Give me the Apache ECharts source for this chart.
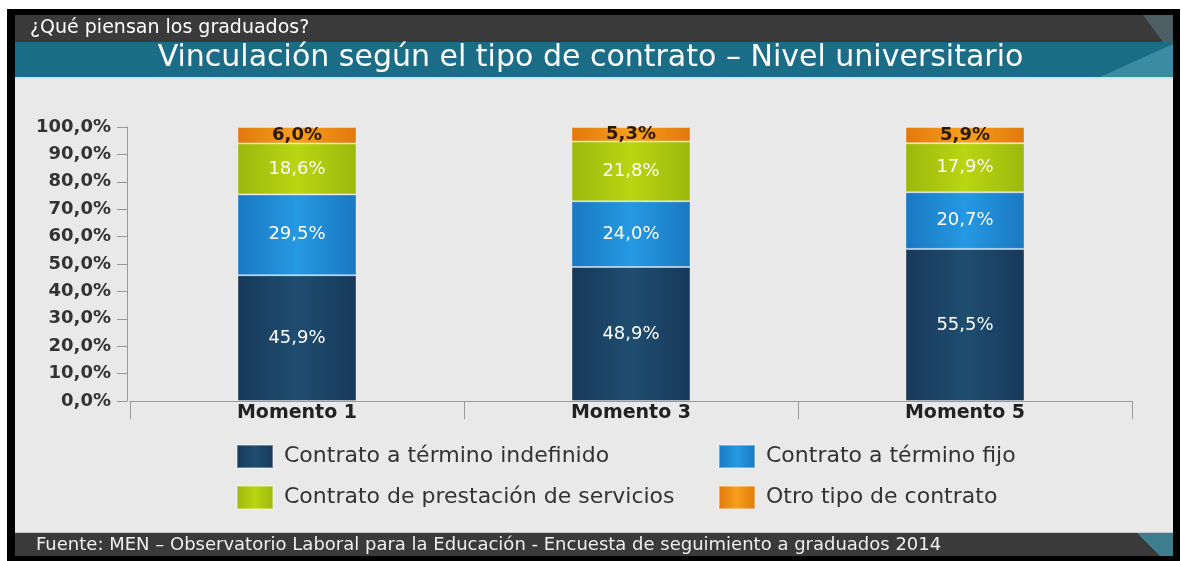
<!DOCTYPE html>
<html>
<head>
<meta charset="utf-8">
<script src="https://cdn.jsdelivr.net/npm/echarts@6/dist/echarts.min.js"></script>
<style>
  html, body { margin: 0; padding: 0; background: #fff; }
  #chart { width: 1181px; height: 561px; }
</style>
</head>
<body>
<div id="chart"></div>
<script>
// datos
var categorias = ['Momento 1', 'Momento 3', 'Momento 5']
var indefinido = [45.9, 48.9, 55.5]
var fijo = [29.5, 24.0, 20.7]
var prestacion = [18.6, 21.8, 17.9]
var otro = [6.0, 5.3, 5.9]
var nombres = ['Contrato a término indefinido', 'Contrato a término fijo', 'Contrato de prestación de servicios', 'Otro tipo de contrato']

// la imagen original esta estirada a lo ancho, por eso una fuente ancha
var FONT = 'DejaVu Sans, Verdana, sans-serif'

function grad(edge, mid) {
  return new echarts.graphic.LinearGradient(0, 0, 1, 0, [
    { offset: 0, color: edge },
    { offset: 0.5, color: mid },
    { offset: 1, color: edge }
  ])
}

function pct(v) {
  return v.toFixed(1).replace('.', ',') + '%'
}

function serie(name, data, color, labelColor, weight) {
  return {
    name: name,
    type: 'bar',
    stack: 'total',
    barWidth: 119,
    data: data,
    itemStyle: {
      color: color,
      borderColor: 'rgba(255,255,255,0.35)',
      borderWidth: 1
    },
    label: {
      show: true,
      position: 'inside',
      color: labelColor,
      fontFamily: FONT,
      fontSize: 18,
      fontWeight: weight || 'normal',
      formatter: function(p) { return pct(p.value) }
    }
  }
}

var chart = echarts.init(document.getElementById('chart'), null, { renderer: 'canvas' })

var option = {
  backgroundColor: '#fff',
  animation: false,
  graphic: [
    // marco negro y bandas
    { type: 'rect', z: -10, shape: { x: 7, y: 9, width: 1173, height: 552 }, style: { fill: '#000' } },
    { type: 'rect', z: -9, shape: { x: 15, y: 15, width: 1158, height: 27 }, style: { fill: '#3a3a3a' } },
    { type: 'polygon', z: -8, shape: { points: [[1143, 15], [1173, 15], [1173, 42], [1163, 42]] }, style: { fill: '#4d5e64' } },
    { type: 'rect', z: -9, shape: { x: 15, y: 42, width: 1158, height: 35 }, style: { fill: '#1b6c86' } },
    { type: 'polygon', z: -8, shape: { points: [[1100, 77], [1173, 77], [1173, 44]] }, style: { fill: '#3b8ca1' } },
    { type: 'rect', z: -9, shape: { x: 15, y: 77, width: 1158, height: 2 }, style: { fill: '#cde4ea' } },
    { type: 'rect', z: -9, shape: { x: 15, y: 79, width: 1158, height: 453 }, style: { fill: '#e9e9e9' } },
    { type: 'rect', z: -9, shape: { x: 15, y: 532, width: 1158, height: 1 }, style: { fill: '#c8c8c8' } },
    { type: 'rect', z: -9, shape: { x: 15, y: 533, width: 1158, height: 23 }, style: { fill: '#3a3a3a' } },
    { type: 'polygon', z: -8, shape: { points: [[1137, 533], [1173, 533], [1173, 556], [1160, 556]] }, style: { fill: '#3e7d8e' } }
  ],
  title: [
    {
      text: '¿Qué piensan los graduados?',
      left: 30, top: 19, padding: 0,
      textStyle: { color: '#fff', fontFamily: FONT, fontSize: 19, fontWeight: 'normal' }
    },
    {
      text: 'Vinculación según el tipo de contrato – Nivel universitario',
      left: 'center', top: 43, padding: 0,
      textStyle: { color: '#fff', fontFamily: FONT, fontSize: 30, fontWeight: 'normal' }
    },
    {
      text: 'Fuente: MEN – Observatorio Laboral para la Educación - Encuesta de seguimiento a graduados 2014',
      left: 36, top: 536, padding: 0,
      textStyle: { color: '#eee', fontFamily: FONT, fontSize: 18, fontWeight: 'normal' }
    }
  ],
  legend: [
    {
      orient: 'vertical', left: 236, top: 444, padding: 0,
      data: [nombres[0], nombres[2]],
      icon: 'rect', itemWidth: 36, itemHeight: 23, itemGap: 16,
      textStyle: { color: '#333', fontFamily: FONT, fontSize: 22, padding: [0, 0, 0, 6] }
    },
    {
      orient: 'vertical', left: 718, top: 444, padding: 0,
      data: [nombres[1], nombres[3]],
      icon: 'rect', itemWidth: 36, itemHeight: 23, itemGap: 16,
      textStyle: { color: '#333', fontFamily: FONT, fontSize: 22, padding: [0, 0, 0, 6] }
    }
  ],
  grid: { left: 130, right: 49, top: 127, bottom: 160 },
  xAxis: {
    type: 'category',
    data: categorias,
    axisLine: { lineStyle: { color: '#999' } },
    axisTick: { show: true, length: 18, interval: 0, lineStyle: { color: '#999' } },
    axisLabel: { color: '#222', fontFamily: FONT, fontSize: 19, fontWeight: 'bold', margin: 3 }
  },
  yAxis: {
    type: 'value',
    min: 0, max: 100, interval: 10,
    offset: 3,
    axisLine: { show: true, lineStyle: { color: '#999' } },
    axisTick: { show: true, length: 10, lineStyle: { color: '#999' } },
    splitLine: { show: false },
    axisLabel: {
      color: '#333', fontFamily: FONT, fontSize: 18, fontWeight: 'bold', margin: 16,
      formatter: function(v) { return pct(v) }
    }
  },
  series: [
    serie(nombres[0], indefinido, grad('#17395a', '#1f4d70'), '#fff'),
    serie(nombres[1], fijo, grad('#1a78c2', '#2599e2'), '#fff'),
    serie(nombres[2], prestacion, grad('#9cb80e', '#b8d611'), '#fff'),
    serie(nombres[3], otro, grad('#e2780c', '#f7a01c'), '#2a1a05', 'bold')
  ]
}

chart.setOption(option)
</script>
</body>
</html>
